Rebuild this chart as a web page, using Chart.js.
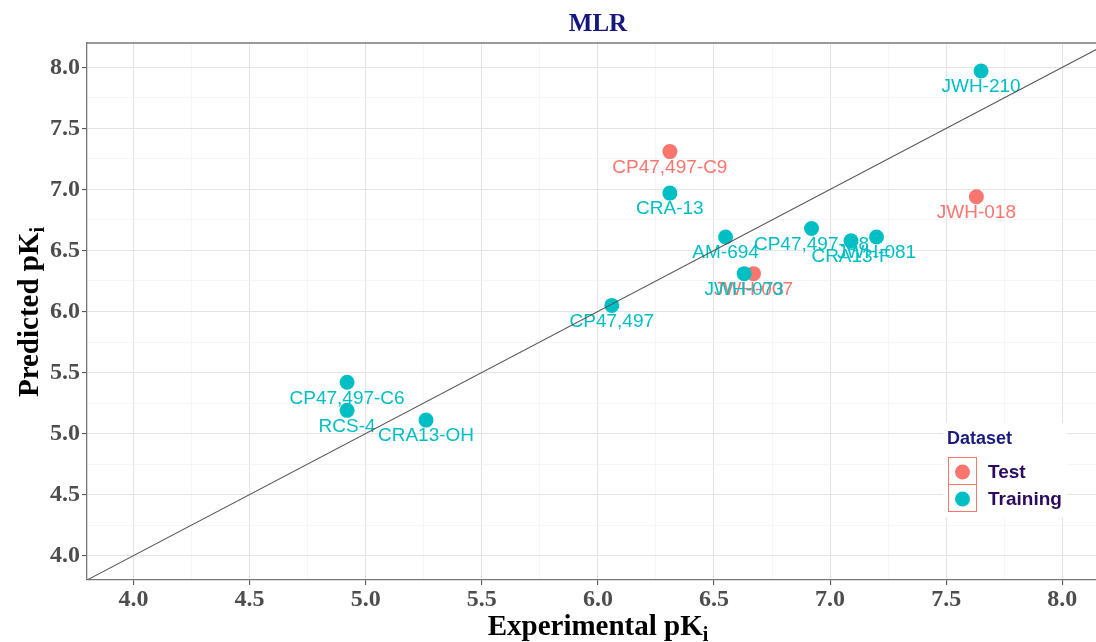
<!DOCTYPE html>
<html>
<head>
<meta charset="utf-8">
<script src="https://cdn.jsdelivr.net/npm/chart.js@4/dist/chart.umd.min.js"></script>
<style>
html,body{margin:0;padding:0;background:#fff;}
canvas{display:block;}
</style>
</head>
<body>
<canvas id="c" width="1096" height="642"></canvas>
<script>
// ---- data ----
const trainNames = ['JWH-210','CRA-13','AM-694','CP47,497-C8','CRA13-F','JWH-081','JWH-073','CP47,497','CP47,497-C6','RCS-4','CRA13-OH'];
const trainExp   = [7.65, 6.31, 6.55, 6.92, 7.09, 7.20, 6.63, 6.06, 4.92, 4.92, 5.26];
const trainPred  = [7.97, 6.97, 6.61, 6.68, 6.58, 6.61, 6.31, 6.05, 5.42, 5.19, 5.11];
const testNames  = ['CP47,497-C9','JWH-018','JWH-007'];
const testExp    = [6.31, 7.63, 6.67];
const testPred   = [7.31, 6.94, 6.31];
const identityLine = [3.8, 8.2];
const xTickLabels = ['4.0','4.5','5.0','5.5','6.0','6.5','7.0','7.5','8.0'];
const yTickLabels = ['4.0','4.5','5.0','5.5','6.0','6.5','7.0','7.5','8.0'];
const legendTitle = 'Dataset';
const seriesNames = ['Test','Training'];
const chartTitle = 'MLR';
const xTitle = 'Experimental pK';
const yTitle = 'Predicted pK';

const TEAL = '#00BFC4', RED = '#F8766D';

function pts(xs, ys){ return xs.map((x,i)=>({x:x, y:ys[i]})); }
function allTicks(labels){
  const maj = labels.map(Number);
  const out = [];
  maj.forEach((v,i)=>{ out.push(v); if(i<maj.length-1) out.push((v+maj[i+1])/2); });
  return out;
}
function isMajor(v, labels){ return labels.some(l => Math.abs(Number(l)-v) < 1e-6); }

const labelPlugin = {
  id:'labels',
  afterDatasetDraw(chart, args){
    if(args.index !== 1) return;
    const ctx = chart.ctx, xs = chart.scales.x, ys = chart.scales.y;
    ctx.save();
    ctx.font = '19px "Liberation Sans", Arial, sans-serif';
    ctx.textAlign = 'center';
    ctx.textBaseline = 'middle';
    const draw = (names, ex, pr, col) => {
      ctx.fillStyle = col;
      names.forEach((n,i)=>{
        ctx.fillText(n, xs.getPixelForValue(ex[i]), ys.getPixelForValue(pr[i]) + 16);
      });
    };
    draw(testNames, testExp, testPred, RED);
    draw(trainNames, trainExp, trainPred, TEAL);
    ctx.restore();
  }
};

const decorPlugin = {
  id:'decor',
  afterDraw(chart){
    const ctx = chart.ctx, a = chart.chartArea;
    ctx.save();
    // top border
    ctx.strokeStyle = '#777'; ctx.lineWidth = 1.3;
    ctx.beginPath(); ctx.moveTo(a.left, a.top); ctx.lineTo(a.right, a.top); ctx.stroke();
    // title
    ctx.fillStyle = '#16167f';
    ctx.font = 'bold 25px "Liberation Serif", "Times New Roman", serif';
    ctx.textAlign = 'center'; ctx.textBaseline = 'middle';
    ctx.fillText(chartTitle, 598, 25);
    // x title
    ctx.fillStyle = '#000';
    ctx.font = 'bold 29px "Liberation Serif", "Times New Roman", serif';
    ctx.textAlign = 'left'; ctx.textBaseline = 'alphabetic';
    const wx = ctx.measureText(xTitle).width;
    ctx.font = 'bold 20px "Liberation Serif", "Times New Roman", serif';
    const wi = ctx.measureText('i').width;
    let x0 = 598 - (wx + wi)/2;
    ctx.font = 'bold 29px "Liberation Serif", "Times New Roman", serif';
    ctx.fillText(xTitle, x0, 635);
    ctx.font = 'bold 20px "Liberation Serif", "Times New Roman", serif';
    ctx.fillText('i', x0 + wx, 641);
    // y title
    ctx.save();
    ctx.translate(38, 312);
    ctx.rotate(-Math.PI/2);
    ctx.font = 'bold 29px "Liberation Serif", "Times New Roman", serif';
    const wy = ctx.measureText(yTitle).width;
    let y0 = -(wy + wi)/2;
    ctx.fillText(yTitle, y0, 0);
    ctx.font = 'bold 20px "Liberation Serif", "Times New Roman", serif';
    ctx.fillText('i', y0 + wy, 6);
    ctx.restore();
    // legend
    ctx.fillStyle = '#fff';
    ctx.fillRect(943, 423, 124, 94);
    ctx.fillStyle = '#1a1a80';
    ctx.font = 'bold 18px "Liberation Sans", Arial, sans-serif';
    ctx.textAlign = 'left'; ctx.textBaseline = 'middle';
    ctx.fillText(legendTitle, 947, 439);
    ctx.strokeStyle = RED; ctx.lineWidth = 1;
    ctx.strokeRect(948.5, 457.5, 28, 27);
    ctx.strokeRect(948.5, 484.5, 28, 27);
    const cols = [RED, TEAL];
    seriesNames.forEach((n,i)=>{
      const cy = 472 + i*27;
      ctx.fillStyle = cols[i];
      ctx.beginPath(); ctx.arc(962.5, cy, 7.5, 0, Math.PI*2); ctx.fill();
      ctx.fillStyle = '#2a0b5e';
      ctx.font = 'bold 19px "Liberation Sans", Arial, sans-serif';
      ctx.fillText(n, 988, cy + 1);
    });
    ctx.restore();
  }
};

function gridOpts(labels){
  return {
    color: c => (c.tick && isMajor(c.tick.value, labels)) ? '#e4e4e4' : '#f0f0f0',
    lineWidth: c => (c.tick && isMajor(c.tick.value, labels)) ? 1.1 : 0.7,
    tickColor: c => (c.tick && isMajor(c.tick.value, labels)) ? '#555' : 'rgba(0,0,0,0)',
    tickLength: 5,
    drawTicks: true
  };
}

new Chart(document.getElementById('c'), {
  type: 'scatter',
  data: {
    datasets: [
      { label:'identity', type:'line', data: pts(identityLine, identityLine),
        borderColor:'#555', borderWidth:1.1, pointRadius:0, fill:false, showLine:true },
      { label: seriesNames[1], data: pts(trainExp, trainPred),
        backgroundColor: TEAL, borderColor: TEAL, pointRadius: 7.5, pointHoverRadius: 7.5, borderWidth:0 },
      { label: seriesNames[0], data: pts(testExp, testPred),
        backgroundColor: RED, borderColor: RED, pointRadius: 7.5, pointHoverRadius: 7.5, borderWidth:0 }
    ]
  },
  options: {
    responsive: false,
    animation: false,
    devicePixelRatio: 1,
    layout: { autoPadding: false, padding: { top: 43, right: 0, left: 0, bottom: 0 } },
    plugins: { legend: { display:false }, tooltip: { enabled:false }, title: { display:false } },
    scales: {
      x: {
        type:'linear', min: 3.8, max: 8.145,
        afterBuildTicks: s => { s.ticks = allTicks(xTickLabels).map(v=>({value:v})); },
        afterFit: s => { s.height = 62; s.paddingLeft = 0; s.paddingRight = 0; },
        ticks: {
          autoSkip:false, maxRotation:0, padding: 0, color:'#4d4d4d',
          font: { family:'"Liberation Serif", "Times New Roman", serif', size: 24, weight:'bold' },
          callback: v => { const i = xTickLabels.findIndex(l => Math.abs(Number(l)-v) < 1e-6); return i >= 0 ? xTickLabels[i] : ''; }
        },
        grid: gridOpts(xTickLabels),
        border: { display:true, color:'#777', width:1.3 }
      },
      y: {
        type:'linear', min: 3.8, max: 8.2,
        afterBuildTicks: s => { s.ticks = allTicks(yTickLabels).map(v=>({value:v})); },
        afterFit: s => { s.width = 87; s.paddingTop = 0; s.paddingBottom = 0; },
        ticks: {
          autoSkip:false, padding: 2, color:'#4d4d4d',
          font: { family:'"Liberation Serif", "Times New Roman", serif', size: 24, weight:'bold' },
          callback: v => { const i = yTickLabels.findIndex(l => Math.abs(Number(l)-v) < 1e-6); return i >= 0 ? yTickLabels[i] : ''; }
        },
        grid: gridOpts(yTickLabels),
        border: { display:true, color:'#777', width:1.3 }
      }
    }
  },
  plugins: [labelPlugin, decorPlugin]
});
</script>
</body>
</html>
